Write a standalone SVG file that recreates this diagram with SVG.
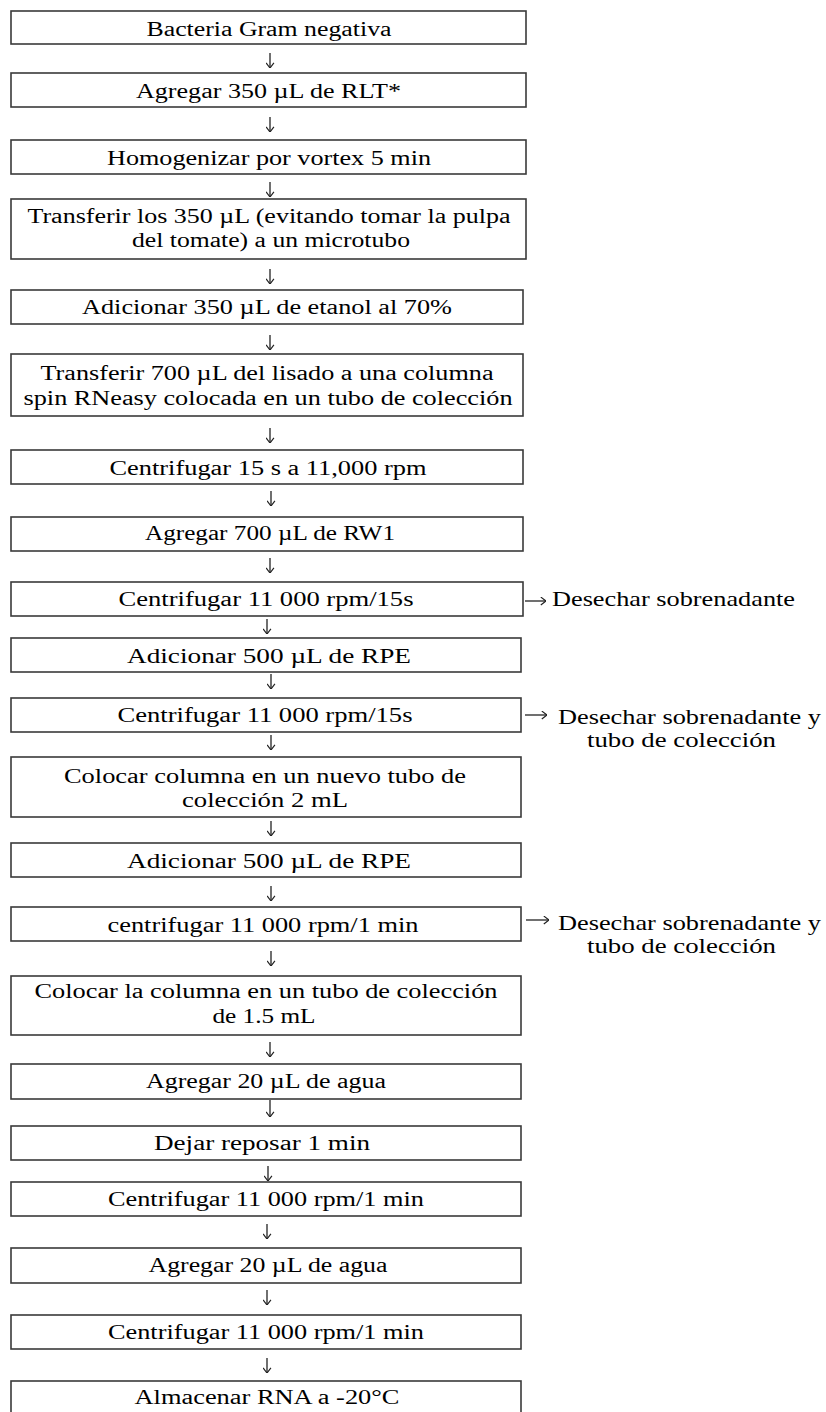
<svg xmlns="http://www.w3.org/2000/svg" width="826" height="1412" viewBox="0 0 826 1412">
<defs>
<style>
.b{fill:#fff;stroke:#3a3a3a;stroke-width:1.6}
.t{font-family:"Liberation Serif","Times New Roman",serif;font-size:20px;fill:#000;text-anchor:middle}
.s{font-family:"Liberation Serif","Times New Roman",serif;font-size:21.5px;fill:#000;text-anchor:start}
.c{stroke:#222;stroke-width:1.3;fill:none;marker-end:url(#ah)}
</style>
<marker id="ah" markerUnits="userSpaceOnUse" viewBox="0 0 6 9" refX="5.6" refY="4.5" markerWidth="6" markerHeight="9" orient="auto">
<path d="M0.4,0.6 L5.6,4.5 L0.4,8.4" fill="none" stroke="#222" stroke-width="1.2"/>
</marker>
</defs>
<rect width="826" height="1412" fill="#fff"/>
<g id="connectors">
<line class="c" x1="270" y1="53" x2="270" y2="68"/>
<line class="c" x1="270" y1="117" x2="270" y2="132"/>
<line class="c" x1="270" y1="182" x2="270" y2="197"/>
<line class="c" x1="270" y1="269" x2="270" y2="284"/>
<line class="c" x1="270" y1="335" x2="270" y2="350"/>
<line class="c" x1="270" y1="428" x2="270" y2="443"/>
<line class="c" x1="271" y1="491" x2="271" y2="506"/>
<line class="c" x1="270" y1="558" x2="270" y2="573"/>
<line class="c" x1="267" y1="619" x2="267" y2="634"/>
<line class="c" x1="271" y1="674" x2="271" y2="689"/>
<line class="c" x1="271" y1="735" x2="271" y2="750"/>
<line class="c" x1="271" y1="821" x2="271" y2="836"/>
<line class="c" x1="271" y1="886" x2="271" y2="901"/>
<line class="c" x1="271" y1="951" x2="271" y2="966"/>
<line class="c" x1="270" y1="1042" x2="270" y2="1057"/>
<line class="c" x1="270" y1="1100" x2="270" y2="1117"/>
<line class="c" x1="268" y1="1166" x2="268" y2="1181"/>
<line class="c" x1="267" y1="1224" x2="267" y2="1239"/>
<line class="c" x1="267" y1="1290" x2="267" y2="1305"/>
<line class="c" x1="267" y1="1358" x2="267" y2="1373"/>
<line class="c" x1="525" y1="601" x2="546" y2="601"/>
<line class="c" x1="525" y1="715" x2="547" y2="715"/>
<line class="c" x1="526" y1="920" x2="549" y2="920"/>
</g>
<g id="n1"><rect class="b" x="11" y="11" width="515" height="33"/><text class="t" x="269" y="35.5" textLength="245" lengthAdjust="spacingAndGlyphs">Bacteria Gram negativa</text></g>
<g id="n2"><rect class="b" x="11" y="73" width="515" height="34"/><text class="t" x="268.5" y="98" textLength="265" lengthAdjust="spacingAndGlyphs">Agregar 350 µL de RLT*</text></g>
<g id="n3"><rect class="b" x="11" y="140" width="515" height="34"/><text class="t" x="269" y="165" textLength="324" lengthAdjust="spacingAndGlyphs">Homogenizar por vortex 5 min</text></g>
<g id="n4"><rect class="b" x="11" y="199" width="515" height="60"/><text class="t" x="269" y="222.5" textLength="483" lengthAdjust="spacingAndGlyphs">Transferir los 350 µL (evitando tomar la pulpa</text><text class="t" x="271" y="247" textLength="278" lengthAdjust="spacingAndGlyphs">del tomate) a un microtubo</text></g>
<g id="n5"><rect class="b" x="11" y="290" width="512" height="34"/><text class="t" x="267" y="314" textLength="370" lengthAdjust="spacingAndGlyphs">Adicionar 350 µL de etanol al 70%</text></g>
<g id="n6"><rect class="b" x="11" y="354" width="512" height="62"/><text class="t" x="267" y="380" textLength="453" lengthAdjust="spacingAndGlyphs">Transferir 700 µL del lisado a una columna</text><text class="t" x="268" y="405" textLength="489" lengthAdjust="spacingAndGlyphs">spin RNeasy colocada en un tubo de colección</text></g>
<g id="n7"><rect class="b" x="11" y="450" width="512" height="34"/><text class="t" x="268" y="475" textLength="317" lengthAdjust="spacingAndGlyphs">Centrifugar 15 s a 11,000 rpm</text></g>
<g id="n8"><rect class="b" x="11" y="517" width="512" height="34"/><text class="t" x="270" y="540" textLength="250" lengthAdjust="spacingAndGlyphs">Agregar 700 µL de RW1</text></g>
<g id="n9"><rect class="b" x="11" y="582" width="512" height="34"/><text class="t" x="266" y="606" textLength="295" lengthAdjust="spacingAndGlyphs">Centrifugar 11 000 rpm/15s</text></g>
<g id="l1"><text class="s" x="552" y="606" textLength="243" lengthAdjust="spacingAndGlyphs">Desechar sobrenadante</text></g>
<g id="n10"><rect class="b" x="11" y="638" width="510" height="34"/><text class="t" x="269" y="663" textLength="284" lengthAdjust="spacingAndGlyphs">Adicionar 500 µL de RPE</text></g>
<g id="n11"><rect class="b" x="11" y="698" width="510" height="34"/><text class="t" x="265" y="722" textLength="295" lengthAdjust="spacingAndGlyphs">Centrifugar 11 000 rpm/15s</text></g>
<g id="l2"><text class="s" x="558" y="724" textLength="263" lengthAdjust="spacingAndGlyphs">Desechar sobrenadante y</text><text class="s" x="587" y="747" textLength="189" lengthAdjust="spacingAndGlyphs">tubo de colección</text></g>
<g id="n12"><rect class="b" x="11" y="757" width="510" height="60"/><text class="t" x="265" y="783" textLength="402" lengthAdjust="spacingAndGlyphs">Colocar columna en un nuevo tubo de</text><text class="t" x="265" y="807" textLength="166" lengthAdjust="spacingAndGlyphs">colección 2 mL</text></g>
<g id="n13"><rect class="b" x="11" y="843" width="510" height="34"/><text class="t" x="269" y="868" textLength="284" lengthAdjust="spacingAndGlyphs">Adicionar 500 µL de RPE</text></g>
<g id="n14"><rect class="b" x="11" y="907" width="510" height="34"/><text class="t" x="263" y="932" textLength="311" lengthAdjust="spacingAndGlyphs">centrifugar 11 000 rpm/1 min</text></g>
<g id="l3"><text class="s" x="558" y="930" textLength="263" lengthAdjust="spacingAndGlyphs">Desechar sobrenadante y</text><text class="s" x="587" y="953" textLength="189" lengthAdjust="spacingAndGlyphs">tubo de colección</text></g>
<g id="n15"><rect class="b" x="11" y="976" width="510" height="59"/><text class="t" x="266" y="998" textLength="463" lengthAdjust="spacingAndGlyphs">Colocar la columna en un tubo de colección</text><text class="t" x="264" y="1023" textLength="103" lengthAdjust="spacingAndGlyphs">de 1.5 mL</text></g>
<g id="n16"><rect class="b" x="11" y="1064" width="510" height="35"/><text class="t" x="266" y="1088" textLength="240" lengthAdjust="spacingAndGlyphs">Agregar 20 µL de agua</text></g>
<g id="n17"><rect class="b" x="11" y="1126" width="510" height="34"/><text class="t" x="262" y="1150" textLength="216" lengthAdjust="spacingAndGlyphs">Dejar reposar 1 min</text></g>
<g id="n18"><rect class="b" x="11" y="1182" width="510" height="34"/><text class="t" x="266" y="1206" textLength="316" lengthAdjust="spacingAndGlyphs">Centrifugar 11 000 rpm/1 min</text></g>
<g id="n19"><rect class="b" x="11" y="1248" width="510" height="35"/><text class="t" x="268" y="1272" textLength="239" lengthAdjust="spacingAndGlyphs">Agregar 20 µL de agua</text></g>
<g id="n20"><rect class="b" x="11" y="1315" width="510" height="34"/><text class="t" x="266" y="1339" textLength="316" lengthAdjust="spacingAndGlyphs">Centrifugar 11 000 rpm/1 min</text></g>
<g id="n21"><rect class="b" x="11" y="1381" width="510" height="40"/><text class="t" x="267" y="1404" textLength="265" lengthAdjust="spacingAndGlyphs">Almacenar RNA a -20°C</text></g>
</svg>
